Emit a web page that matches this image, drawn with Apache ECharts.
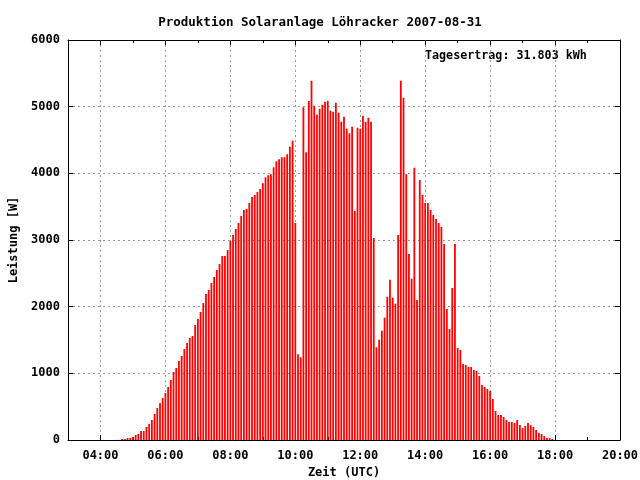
<!DOCTYPE html>
<html><head><meta charset="utf-8">
<script src="https://cdn.jsdelivr.net/npm/echarts@6/dist/echarts.min.js"></script>
<style>html,body{margin:0;padding:0;background:#fff}#c{width:640px;height:480px}</style>
</head><body><div id="c"></div>
<script>
const titleText = 'Produktion Solaranlage Löhracker 2007-08-31';
const yieldText = 'Tagesertrag: 31.803 kWh';
const xName = 'Zeit (UTC)';
const yName = 'Leistung [W]';
const axisStart = '03:00';
const axisEnd = '20:00';
const firstSample = '04:40';
const stepMinutes = 5;
// power in W, one value every 5 minutes starting at 04:40
const power = [
  15,15,30,30,45,75,90,135,135,195,240,300,390,480,555,630,705,795,900,1020,1080,1185,1260,1365,1455,
  1530,1560,1725,1815,1920,2055,2190,2250,2355,2445,2550,2640,2760,2760,2850,2985,3075,3165,3255,3360,3450,3465,3555,3645,3675,3720,3765,3850,
  3940,3970,3985,4090,4180,4210,4240,4240,4285,4400,4490,3255,1285,1240,4990,4315,5085,5390,5015,4880,4970,5030,5075,5090,4940,4925,5060,4910,
  4775,4850,4670,4600,4700,3435,4685,4670,4865,4775,4835,4775,3030,1390,1505,1640,1835,2150,2405,2135,2045,3075,5390,5135,3985,2790,2420,4085,
  2100,3900,3675,3555,3555,3450,3375,3315,3255,3195,2940,1965,1665,2280,2940,1380,1350,1140,1125,1095,1095,1050,1035,960,825,795,765,
  735,615,435,375,375,345,300,270,270,255,300,225,180,210,255,225,195,150,105,90,60,30,30,15
];
const yMin = 0, yMax = 6000, yStep = 1000;

function toMin(s){ const p = s.split(':'); return (+p[0])*60 + (+p[1]); }
function fmt(m){ const h = Math.floor(m/60), mm = m%60; return (h<10?'0':'')+h+':'+(mm<10?'0':'')+mm; }

const categories = [];
for (let m = toMin(axisStart); m <= toMin(axisEnd); m += stepMinutes) categories.push(fmt(m));
const off = toMin(firstSample);
const seriesData = categories.map(c => {
  const k = (toMin(c) - off) / stepMinutes;
  return (k >= 0 && k < power.length) ? power[k] : '-';
});

const isMajor = (i, v) => toMin(v) % 120 === 0;
const isMinor = (i, v) => toMin(v) % 60 === 0 && toMin(v) % 120 !== 0;

const font = { fontFamily: 'DejaVu Sans Mono', fontWeight: 'bold', fontSize: 12, color: '#000' };
const grid = { left: 68, right: 20, top: 40, bottom: 40, containLabel: false, outerBoundsMode: 'none' };
const gridLine = { color: '#999999', type: [2, 3], width: 1 };

function xAx(gridIndex, pos, opts){
  return Object.assign({
    type: 'category', gridIndex, position: pos, data: categories, boundaryGap: false,
    axisLine: { show: true, onZero: false, lineStyle: { color: '#000', width: 1 } },
    axisTick: { show: false }, axisLabel: { show: false }, splitLine: { show: false }
  }, opts);
}
function yAx(gridIndex, pos, opts){
  return Object.assign({
    type: 'value', gridIndex, position: pos, min: yMin, max: yMax, interval: yStep,
    axisLine: { show: true, lineStyle: { color: '#000', width: 1 } },
    axisTick: { show: false }, axisLabel: { show: false }, splitLine: { show: false }
  }, opts);
}

const chart = echarts.init(document.getElementById('c'), null, { renderer: 'canvas' });
chart.setOption({
  animation: false,
  backgroundColor: '#fff',
  title: { text: titleText, left: 'center', top: 11, textStyle: Object.assign({}, font, { fontSize: 12.5 }) },
  graphic: [{ type: 'text', left: 425, top: 50, style: { text: yieldText, font: 'bold 11.7px "DejaVu Sans Mono"', fill: '#000' } }],
  grid: [grid, Object.assign({}, grid)],
  xAxis: [
    xAx(0, 'bottom', {
      name: xName, nameLocation: 'middle', nameGap: 25, nameTextStyle: font,
      axisTick: { show: true, inside: true, length: 5, interval: isMajor, lineStyle: { color: '#000' } },
      axisLabel: Object.assign({ show: true, interval: isMajor, margin: 10 }, font),
      splitLine: { show: true, interval: isMajor, lineStyle: gridLine }
    }),
    xAx(0, 'top', { axisTick: { show: true, inside: true, length: 5, interval: isMajor, lineStyle: { color: '#000' } } }),
    xAx(1, 'bottom', { axisLine: { show: false }, axisTick: { show: true, inside: true, length: 3, interval: isMinor, lineStyle: { color: '#000' } } }),
    xAx(1, 'top', { axisLine: { show: false }, axisTick: { show: true, inside: true, length: 3, interval: isMinor, lineStyle: { color: '#000' } } })
  ],
  yAxis: [
    yAx(0, 'left', {
      name: yName, nameLocation: 'middle', nameGap: 47, nameTextStyle: font,
      axisTick: { show: true, inside: true, length: 5, lineStyle: { color: '#000' } },
      axisLabel: Object.assign({ show: true, margin: 8, formatter: v => String(v) }, font),
      splitLine: { show: true, lineStyle: gridLine }
    }),
    yAx(0, 'right', { axisTick: { show: true, inside: true, length: 5, lineStyle: { color: '#000' } } }),
    yAx(1, 'left', { axisLine: { show: false } })
  ],
  series: [
    { type: 'bar', xAxisIndex: 0, yAxisIndex: 0, data: seriesData, barWidth: 1.8, itemStyle: { color: '#ff0000' }, silent: true },
    { type: 'bar', xAxisIndex: 2, yAxisIndex: 2, data: [], silent: true }
  ]
});
</script></body></html>
